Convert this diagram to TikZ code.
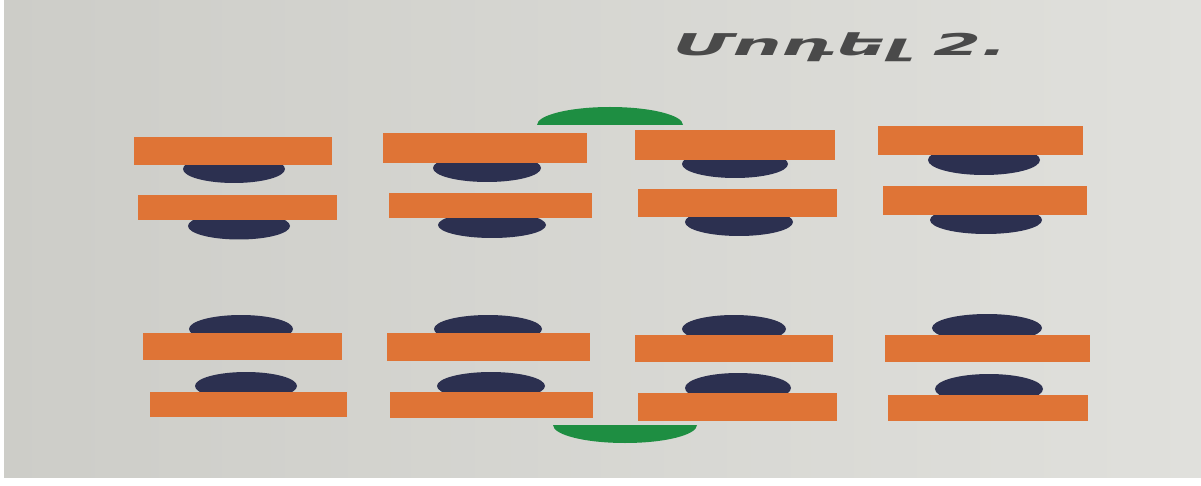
\documentclass[tikz,border=0pt]{standalone}
\usepackage{fontspec}
\newfontfamily\armfont{DejaVu Sans}
\definecolor{bgL}{HTML}{CDCDC8}
\definecolor{bgR}{HTML}{E0E0DC}
\definecolor{barC}{HTML}{DF7436}
\definecolor{beadC}{HTML}{2C3050}
\definecolor{capC}{HTML}{1E8E42}
\definecolor{txtC}{HTML}{4A4A4A}
\tikzset{
  bar/.style={fill=barC},
  bead/.style={fill=beadC},
  capg/.style={fill=capC},
}
\begin{document}
\begin{tikzpicture}[x=1pt,y=-1pt]
\useasboundingbox (0,0) rectangle (1201,486);
\shade[left color=bgL,right color=bgR] (0,0) rectangle (1201,486);
\fill[white] (0,478) rectangle (1201,486);
\fill[white] (0,0) rectangle (4,486);
% title
\node[text=txtC,font=\armfont\bfseries\itshape\fontsize{30}{36}\selectfont,anchor=base,xscale=2.3] (title) at (840,56) {Մոդել 2.};
% green caps
\fill[capg] (537,125) arc[start angle=180,end angle=0,x radius=73,y radius=-18] -- cycle;
\fill[capg] (553,425) arc[start angle=180,end angle=360,x radius=72,y radius=-18] -- cycle;
% top rows: bead below bar
\fill[bead] (234,169) ellipse[x radius=51,y radius=14];
\fill[bar] (134,137) rectangle (332,165);
\fill[bead] (239,226) ellipse[x radius=51,y radius=13.5];
\fill[bar] (138,195) rectangle (337,220);
\fill[bead] (487,168) ellipse[x radius=54,y radius=14];
\fill[bar] (383,133) rectangle (587,163);
\fill[bead] (492,225) ellipse[x radius=54,y radius=13];
\fill[bar] (389,193) rectangle (592,218);
\fill[bead] (735,164) ellipse[x radius=53,y radius=14];
\fill[bar] (635,130) rectangle (835,160);
\fill[bead] (739,222) ellipse[x radius=54,y radius=14];
\fill[bar] (638,189) rectangle (837,217);
\fill[bead] (984,160) ellipse[x radius=56,y radius=15];
\fill[bar] (878,126) rectangle (1083,155);
\fill[bead] (986,220) ellipse[x radius=56,y radius=14];
\fill[bar] (883,186) rectangle (1087,215);
% bottom rows: bead above bar
\fill[bead] (241,329) ellipse[x radius=52,y radius=14];
\fill[bar] (143,333) rectangle (342,360);
\fill[bead] (246,386) ellipse[x radius=51,y radius=14];
\fill[bar] (150,392) rectangle (347,417);
\fill[bead] (488,329) ellipse[x radius=54,y radius=14];
\fill[bar] (387,333) rectangle (590,361);
\fill[bead] (491,386) ellipse[x radius=54,y radius=14];
\fill[bar] (390,392) rectangle (593,418);
\fill[bead] (734,329) ellipse[x radius=52,y radius=14];
\fill[bar] (635,335) rectangle (833,362);
\fill[bead] (738,388) ellipse[x radius=53,y radius=15];
\fill[bar] (638,393) rectangle (837,421);
\fill[bead] (987,328) ellipse[x radius=55,y radius=14];
\fill[bar] (885,335) rectangle (1090,362);
\fill[bead] (989,389) ellipse[x radius=54,y radius=15];
\fill[bar] (888,395) rectangle (1088,421);
\end{tikzpicture}
\end{document}
